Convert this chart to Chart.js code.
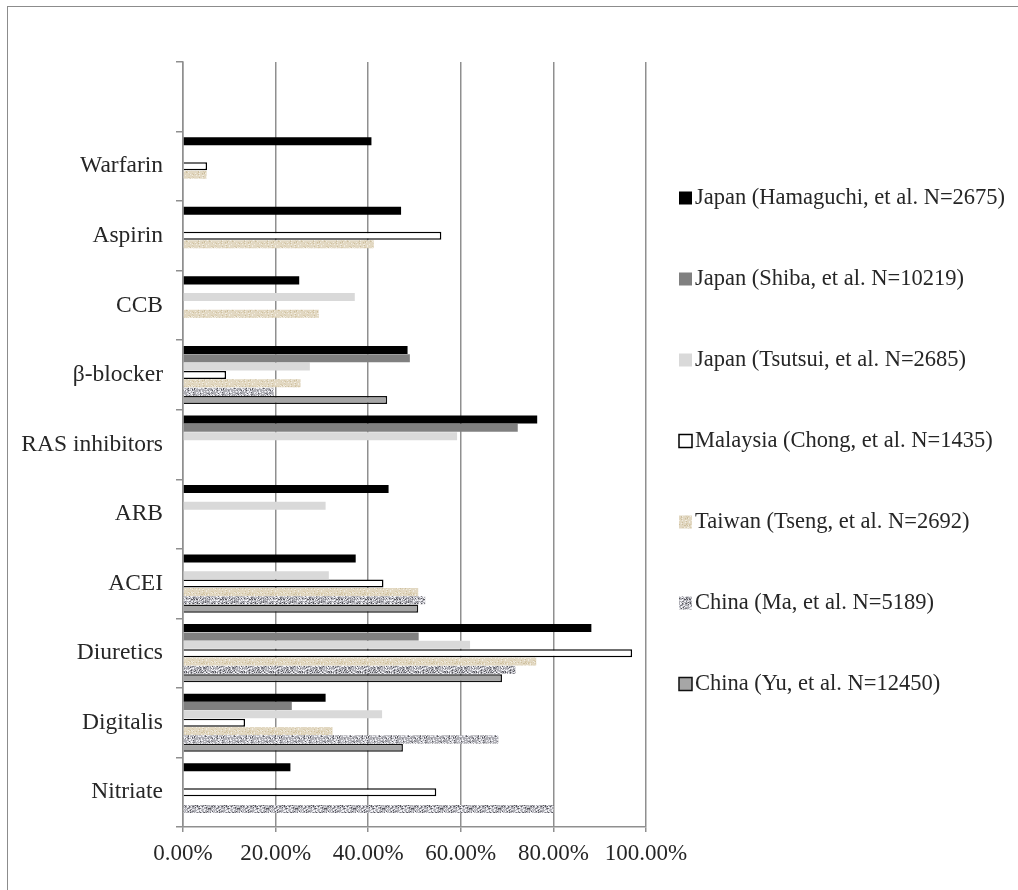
<!DOCTYPE html>
<html lang="en">
<head>
    <meta charset="utf-8">
    <title>Drug use by study</title>
    <script src="https://cdn.jsdelivr.net/npm/chart.js@4.4.0/dist/chart.umd.min.js"></script>
    <style>
        html, body { margin: 0; padding: 0; background: #fff; }
        .ram { position: absolute; left: 7px; top: 6px; width: 1100px; height: 1000px;
               border-left: 1.5px solid #8c8c8c; border-top: 1.5px solid #8c8c8c; }
        .kontainer { position: absolute; left: 0; top: 0; width: 1018px; height: 890px; }
    </style>
</head>
<body>
    <div class="ram"></div>
    <div class="kontainer">
        <canvas id="myChart"></canvas>
    </div>
    <script>
        // categories top to bottom (first slot is empty in the original)
        var lakemedel = ['', 'Warfarin', 'Aspirin', 'CCB', 'β-blocker', 'RAS inhibitors', 'ARB', 'ACEI', 'Diuretics', 'Digitalis', 'Nitriate'];

        var hamaguchi = [null, 40.7, 47.1, 25.1, 48.5, 76.5, 44.4, 37.3, 88.2, 30.8, 23.2];
        var shiba     = [null, null, null, null, 49.0, 72.3, null, null, 50.9, 23.5, null];
        var tsutsui   = [null, null, null, 37.1, 27.4, 59.2, 30.8, 31.5, 62.0, 43.0, null];
        var chong     = [null, 5.2, 55.8, null, 9.3, null, null, 43.3, 97.0, 13.4, 54.7];
        var tseng     = [null, 5.1, 41.2, 29.3, 25.4, null, null, 50.8, 76.3, 32.3, null];
        var ma        = [null, null, null, null, 19.6, null, null, 52.3, 71.8, 68.1, 80.0];
        var yu        = [null, null, null, null, 44.1, null, null, 50.8, 68.9, 47.5, null];

        var xTicks = [0, 20, 40, 60, 80, 100];

        const typsnitt = '"Liberation Serif", "Times New Roman", serif';
        const textfarg = '#262626';
        const linjefarg = '#8f8f8f';

        // small speckled tiles for the textured series
        function speckel(bas, toner, storlek) {
            const c = document.createElement('canvas');
            c.width = c.height = storlek;
            const g = c.getContext('2d');
            g.fillStyle = bas;
            g.fillRect(0, 0, storlek, storlek);
            for (let y = 0; y < storlek; y++) {
                for (let x = 0; x < storlek; x++) {
                    let h = Math.imul(x + 1, 374761393) ^ Math.imul(y + 7, 668265263);
                    h = Math.imul(h ^ (h >>> 13), 1274126177);
                    h = ((h ^ (h >>> 16)) >>> 0) % 10;
                    if (h < toner.length) {
                        g.fillStyle = toner[h];
                        g.fillRect(x, y, 1, 1);
                    }
                }
            }
            return g.createPattern(c, 'repeat');
        }
        const beige = speckel('#e2d8c2', ['#cdbf9f', '#f1ece0', '#d8cbad'], 23);
        const grasten = speckel('#aeaeb4', ['#55555c', '#e8e8ee', '#7e7e86', '#d2d2d8', '#f4f4f8'], 29);

        const egenLegend = {
            id: 'egenLegend',
            afterDraw(chart) {
                const ctx = chart.ctx;
                const a = chart.chartArea;
                const mitt = (a.top + a.bottom) / 2 - 4;
                const n = chart.data.datasets.length;
                ctx.save();
                ctx.font = '22.5px ' + typsnitt;
                ctx.textBaseline = 'middle';
                chart.data.datasets.forEach((ds, i) => {
                    const y = mitt + (i - (n - 1) / 2) * 81;
                    const x = a.right + 33;
                    ctx.fillStyle = ds.backgroundColor;
                    ctx.fillRect(x, y - 6, 13, 13);
                    if (ds.borderWidth) {
                        ctx.lineWidth = 1.5;
                        ctx.strokeStyle = ds.borderColor;
                        ctx.strokeRect(x, y - 6, 13, 13);
                    }
                    ctx.fillStyle = textfarg;
                    ctx.fillText(ds.label, x + 16, y + 1);
                });
                ctx.restore();
            }
        };

        const ctx = document.getElementById('myChart').getContext('2d');
        const myChart = new Chart(ctx, {
            type: 'bar',
            data: {
                labels: lakemedel,
                datasets: [
                    { label: 'Japan (Hamaguchi, et al. N=2675)', data: hamaguchi, backgroundColor: '#000000', borderWidth: 0 },
                    { label: 'Japan (Shiba, et al. N=10219)', data: shiba, backgroundColor: '#808080', borderWidth: 0 },
                    { label: 'Japan (Tsutsui, et al. N=2685)', data: tsutsui, backgroundColor: '#d9d9d9', borderWidth: 0 },
                    { label: 'Malaysia (Chong, et al. N=1435)', data: chong, backgroundColor: '#ffffff', borderColor: '#000000', borderWidth: 1.5 },
                    { label: 'Taiwan (Tseng, et al. N=2692)', data: tseng, backgroundColor: beige, borderWidth: 0 },
                    { label: 'China (Ma, et al. N=5189)', data: ma, backgroundColor: grasten, borderWidth: 0 },
                    { label: 'China (Yu, et al. N=12450)', data: yu, backgroundColor: '#a6a6a6', borderColor: '#111111', borderWidth: 1.5 }
                ]
            },
            options: {
                indexAxis: 'y',
                responsive: true,
                maintainAspectRatio: false,
                animation: false,
                datasets: { bar: { categoryPercentage: 0.84, barPercentage: 0.96 } },
                layout: { padding: { top: 62, right: 372, bottom: 0, left: 0 } },
                plugins: {
                    legend: { display: false },
                    tooltip: { enabled: false }
                },
                scales: {
                    x: {
                        min: 0,
                        max: 100,
                        afterBuildTicks: s => { s.ticks = xTicks.map(v => ({ value: v })); },
                        afterFit: s => { s.height = 63; },
                        ticks: {
                            callback: v => v.toFixed(2) + '%',
                            font: { family: typsnitt, size: 23 },
                            color: textfarg,
                            padding: 8,
                            maxRotation: 0
                        },
                        grid: { color: linjefarg, lineWidth: 1.5, tickLength: 5 },
                        border: { color: linjefarg, width: 1.5 }
                    },
                    y: {
                        afterFit: s => { s.width = 183; },
                        ticks: {
                            font: { family: typsnitt, size: 23.5 },
                            color: textfarg,
                            padding: 13
                        },
                        grid: { drawOnChartArea: false, color: linjefarg, lineWidth: 1.5, tickLength: 7 },
                        border: { color: linjefarg, width: 1.5 }
                    }
                }
            },
            plugins: [egenLegend]
        });
    </script>
</body>
</html>
